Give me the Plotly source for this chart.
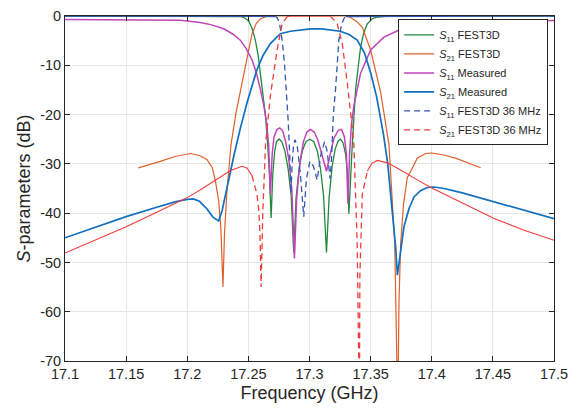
import plotly.graph_objects as go

# ---------------- data (GHz, dB) ----------------
# S11 FEST3D (green)
s11_fest_f = [17.10, 17.20, 17.24, 17.2434, 17.247, 17.2503, 17.253, 17.2557, 17.258, 17.2598, 17.262,
              17.264, 17.2658, 17.2672, 17.2686, 17.2700, 17.2715, 17.273, 17.2752, 17.2775, 17.28,
              17.2825, 17.285, 17.2871, 17.289, 17.2915, 17.294, 17.297, 17.3003, 17.3035, 17.3065,
              17.309, 17.3115, 17.3139, 17.316, 17.3185, 17.321, 17.3235, 17.3254, 17.3275, 17.3295,
              17.3312, 17.3322, 17.3335, 17.335, 17.3369, 17.3377, 17.34, 17.3418, 17.3445, 17.3473,
              17.351, 17.3555, 17.365, 17.40, 17.50]
s11_fest_db = [0, 0, 0, -0.1, -0.4, -1.0, -2.5, -4.9, -8.0, -11.6, -15.5,
               -20.2, -26.1, -32, -41, -32, -27.5, -25.5, -24.95, -25.6, -27.5,
               -31, -36.5, -48, -37, -31, -27.5, -25.5, -25.0, -25.5, -27.5,
               -31, -36.5, -48, -37, -30.5, -27, -25.3, -25.0, -25.8, -28,
               -32, -40.1, -32, -26.1, -18.2, -14.9, -10, -6.3, -3.3, -1.6,
               -0.6, -0.2, 0, 0, 0]

# S21 FEST3D (orange)
s21_fest_f = [17.16, 17.17, 17.1779, 17.19, 17.2025, 17.21, 17.2161, 17.2205, 17.223, 17.2257, 17.2275,
              17.2292, 17.2305, 17.2325, 17.2358, 17.24, 17.2462, 17.25, 17.253, 17.2565, 17.2598,
              17.264, 17.268, 17.30, 17.33, 17.3336, 17.3385, 17.3432, 17.35, 17.3582, 17.365,
              17.3697, 17.3708, 17.3714, 17.3722, 17.3732, 17.3746, 17.377, 17.38, 17.3883, 17.395,
              17.40, 17.41, 17.42, 17.43, 17.44]
s21_fest_db = [-30.8, -30.1, -29.5, -28.5, -27.9, -28.3, -29.1, -30.8, -33.4, -37.5, -43,
               -55.0, -44, -35.5, -26.1, -19.5, -11.6, -6.8, -3.6, -1.5, -0.6,
               -0.15, 0, 0, 0, -0.3, -1.1, -2.3, -6.9, -15.5, -26.1,
               -46, -58, -80, -80, -58, -46, -38, -32.8, -28.8, -27.9,
               -27.8, -28.2, -28.9, -29.8, -30.8]

# S11 Measured (magenta)
s11_meas_f = [17.10, 17.15, 17.1943, 17.2107, 17.22, 17.2298, 17.2375, 17.2434, 17.248, 17.253, 17.2565,
              17.2598, 17.2625, 17.2648, 17.2666, 17.268, 17.2695, 17.271, 17.2735, 17.2757, 17.278,
              17.2805, 17.283, 17.2855, 17.2877, 17.2895, 17.292, 17.295, 17.298, 17.3008, 17.304,
              17.307, 17.31, 17.3139, 17.317, 17.32, 17.3235, 17.3262, 17.3285, 17.3302, 17.3314,
              17.3328, 17.3343, 17.3363, 17.3418, 17.35, 17.3609, 17.3746, 17.3828, 17.40, 17.43,
              17.46, 17.50]
s11_meas_db = [-0.7, -0.75, -0.85, -1.3, -1.8, -2.6, -3.7, -4.9, -6.5, -8.9, -11.5,
               -14.9, -18, -21.5, -26.1, -36.1, -28, -24.5, -23, -22.7, -23.3,
               -25.5, -29, -35, -49.2, -37, -30, -25.5, -23.5, -23.0, -23.6,
               -25.3, -28, -31.5, -28, -24.8, -23.2, -23.0, -24.5, -28, -38.1,
               -28, -22, -18.2, -11.6, -6.9, -4.3, -2.7, -2.2, -1.9, -1.5,
               -1.2, -0.9]

# S21 Measured (blue)
s21_meas_f = [17.10, 17.125, 17.15, 17.175, 17.19, 17.20, 17.205, 17.21, 17.216, 17.221, 17.2257,
              17.2285, 17.2325, 17.238, 17.2434, 17.249, 17.257, 17.262, 17.268, 17.2762, 17.2844,
              17.29, 17.3008, 17.31, 17.318, 17.325, 17.332, 17.339, 17.345, 17.35, 17.355,
              17.3605, 17.364, 17.3678, 17.3705, 17.3719, 17.3745, 17.3773, 17.3815, 17.3855, 17.391,
              17.3965, 17.402, 17.41, 17.425, 17.451, 17.475, 17.50]
s21_meas_db = [-45.0, -42.9, -40.7, -38.8, -37.7, -37.2, -37.1, -37.6, -39.1, -40.8, -41.6,
               -39.5, -34.8, -28.5, -22.8, -17.5, -10.9, -8.0, -5.6, -3.6, -3.1,
               -2.9, -2.6, -2.6, -2.8, -3.1, -3.7, -4.9, -7.5, -11.5, -16.5,
               -24, -30, -39.4, -47, -52.6, -47.5, -42.7, -39, -36.7, -35.4,
               -34.8, -34.7, -35.0, -35.9, -37.7, -39.4, -41.1]

# S11 FEST3D 36 MHz (blue dashed)
s11_36_f = [17.10, 17.20, 17.272, 17.2735, 17.2755, 17.2776, 17.2795, 17.2811, 17.2825, 17.2838, 17.2848,
            17.2858, 17.287, 17.2882, 17.290, 17.2925, 17.2953, 17.2975, 17.3003, 17.3033, 17.3063,
            17.309, 17.3123, 17.3145, 17.3168, 17.318, 17.3195, 17.3213, 17.3228, 17.324, 17.326,
            17.328, 17.3295, 17.40, 17.50]
s11_36_db = [0, 0, -0.1, -0.3, -1.5, -4.9, -9.5, -15, -21, -28, -36,
             -30, -26, -25.1, -26.5, -32, -40.7, -33, -29.5, -30.5, -33.3,
             -28.5, -25.5, -27.5, -33, -29, -20, -14.9, -9.5, -4.9, -2,
             -0.6, -0.1, 0, 0]

# S21 FEST3D 36 MHz (red dashed)
s21_36_f = [17.10, 17.125, 17.1505, 17.175, 17.1997, 17.2125, 17.2243, 17.235, 17.2448, 17.249, 17.253,
            17.2555, 17.257, 17.2585, 17.2595, 17.2604, 17.2618, 17.264, 17.268, 17.2735, 17.2776,
            17.2817, 17.285, 17.30, 17.3172, 17.3227, 17.3268, 17.3309, 17.335, 17.3363, 17.339,
            17.3400, 17.3408, 17.3412, 17.3432, 17.3473, 17.351, 17.3555, 17.3637, 17.372, 17.38,
            17.39, 17.3992, 17.425, 17.451, 17.475, 17.50]
s21_36_db = [-48.1, -45.5, -42.7, -39.8, -36.9, -35.0, -33.1, -31.4, -30.5, -30.9, -32.4,
             -34.5, -36.1, -39.4, -44, -55, -40, -26.1, -16.2, -6.9, -1.6,
             -0.15, 0, 0, 0, -1.6, -5.6, -13.6, -22.8, -26.1, -46,
             -80, -80, -52.6, -36.1, -31.5, -29.9, -29.3, -29.8, -30.9, -32.1,
             -33.5, -34.8, -38.0, -41.1, -43.4, -45.5]

x_ticks = [17.1, 17.15, 17.2, 17.25, 17.3, 17.35, 17.4, 17.45, 17.5]
x_tick_text = ["17.1", "17.15", "17.2", "17.25", "17.3", "17.35", "17.4", "17.45", "17.5"]
y_ticks = [-70, -60, -50, -40, -30, -20, -10, 0]
y_tick_text = ["-70", "-60", "-50", "-40", "-30", "-20", "-10", "0"]

names = ["<i>S</i><sub>11</sub> FEST3D", "<i>S</i><sub>21</sub> FEST3D",
         "<i>S</i><sub>11</sub> Measured", "<i>S</i><sub>21</sub> Measured",
         "<i>S</i><sub>11</sub> FEST3D 36 MHz", "<i>S</i><sub>21</sub> FEST3D 36 MHz"]

C_GREEN = "#1f8a3c"
C_ORANGE = "#e0602a"
C_MAGENTA = "#bf45b8"
C_BLUE = "#1170bf"
C_DBLUE = "#3556b0"
C_RED = "#f03c3c"


def pick(f, d, lo, hi):
    """Points of a series whose frequency lies in [lo, hi]."""
    sel = [(a, b) for a, b in zip(f, d) if lo <= a <= hi]
    return [p[0] for p in sel], [p[1] for p in sel]


def join(*parts):
    """Join several (f, d) pieces with gaps between them."""
    fx, dx = [], []
    for i, (pf, pd) in enumerate(parts):
        if i:
            fx.append(None); dx.append(None)
        fx += pf; dx += pd
    return fx, dx


fig = go.Figure()
fig.add_trace(go.Scatter(x=s11_fest_f, y=s11_fest_db, mode="lines", name=names[0],
                         line=dict(color=C_GREEN, width=1.3)))
fig.add_trace(go.Scatter(x=s21_fest_f, y=s21_fest_db, mode="lines", name=names[1],
                         line=dict(color=C_ORANGE, width=1.2)))
fig.add_trace(go.Scatter(x=s11_meas_f, y=s11_meas_db, mode="lines", name=names[2],
                         line=dict(color=C_MAGENTA, width=1.5)))
fig.add_trace(go.Scatter(x=s21_meas_f, y=s21_meas_db, mode="lines", name=names[3],
                         line=dict(color=C_BLUE, width=1.7)))

# S11 36 MHz: flat out-of-band parts look solid, steep in-band parts dashed
bd_f, bd_d = pick(s11_36_f, s11_36_db, 17.272, 17.3295)
bs_f, bs_d = join(pick(s11_36_f, s11_36_db, 17.0, 17.272), pick(s11_36_f, s11_36_db, 17.3295, 17.6))
fig.add_trace(go.Scatter(x=bd_f, y=bd_d, mode="lines", name=names[4],
                         line=dict(color=C_DBLUE, width=1.3, dash="6px,4px")))
fig.add_trace(go.Scatter(x=bs_f, y=bs_d, mode="lines", showlegend=False, hoverinfo="skip",
                         line=dict(color=C_DBLUE, width=1.3)))

# S21 36 MHz: dashed on the steep skirts, solid elsewhere
rd_f, rd_d = join(pick(s21_36_f, s21_36_db, 17.253, 17.2817), pick(s21_36_f, s21_36_db, 17.3172, 17.3473))
rs_f, rs_d = join(pick(s21_36_f, s21_36_db, 17.0, 17.253), pick(s21_36_f, s21_36_db, 17.2817, 17.3172),
                  pick(s21_36_f, s21_36_db, 17.3473, 17.6))
fig.add_trace(go.Scatter(x=rd_f, y=rd_d, mode="lines", name=names[5],
                         line=dict(color=C_RED, width=1.3, dash="6px,4px")))
fig.add_trace(go.Scatter(x=rs_f, y=rs_d, mode="lines", showlegend=False, hoverinfo="skip",
                         line=dict(color=C_RED, width=1.1)))

axis_common = dict(showline=True, linecolor="#262626", linewidth=1, mirror="ticks",
                   ticks="inside", ticklen=5, tickcolor="#262626",
                   showgrid=True, gridcolor="#e6e6e6", gridwidth=1, zeroline=False,
                   tickfont=dict(family="Liberation Sans, Arial", size=14.5, color="#262626"))

fig.update_layout(
    width=584, height=412,
    margin=dict(l=65, r=30, t=8, b=51),
    paper_bgcolor="white", plot_bgcolor="white",
    font=dict(family="Liberation Sans, Arial", color="#262626"),
    showlegend=True,
    legend=dict(x=0.988, y=0.99, xanchor="right", yanchor="top",
                bgcolor="white", bordercolor="#262626", borderwidth=1,
                font=dict(family="Liberation Sans, Arial", size=11, color="#262626"),
                tracegroupgap=0, itemwidth=30),
    xaxis=dict(range=[17.1, 17.5], tickvals=x_ticks, ticktext=x_tick_text,
               title=dict(text="Frequency (GHz)", font=dict(size=18, color="#262626"), standoff=4),
               **axis_common),
    yaxis=dict(range=[-70, 0], tickvals=y_ticks, ticktext=y_tick_text,
               title=dict(text="<i>S</i>-parameters (dB)", font=dict(size=18, color="#262626"), standoff=4),
               **axis_common),
)

fig.write_html("out.html")
